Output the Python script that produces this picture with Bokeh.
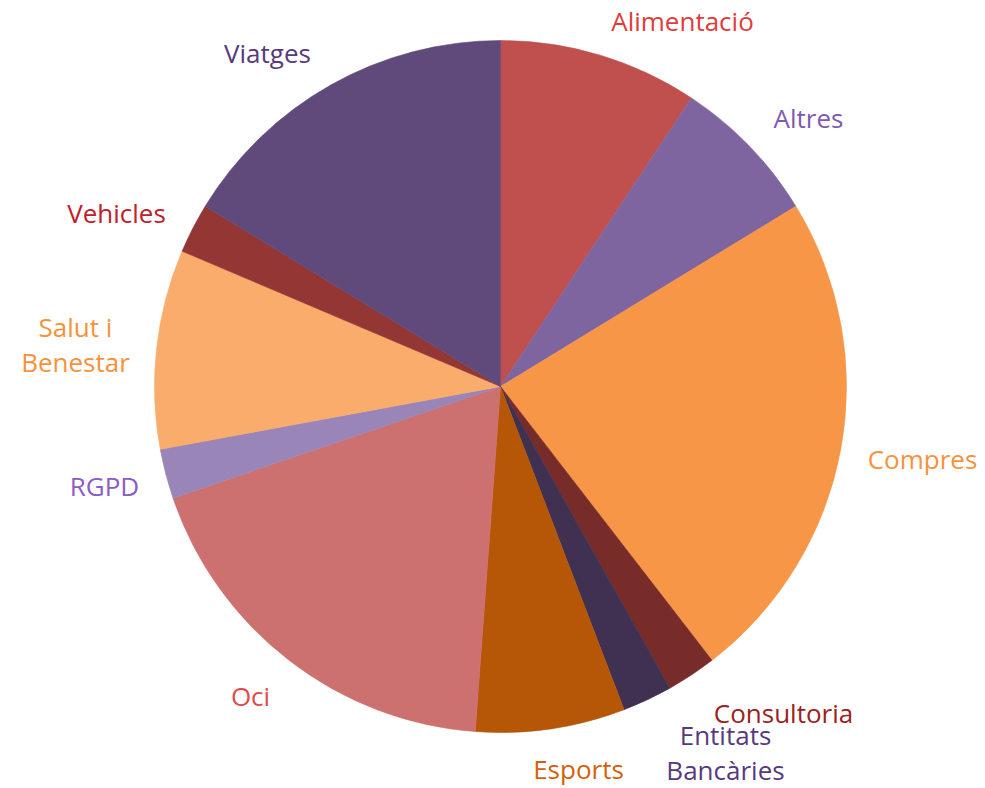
import math
from bokeh.plotting import figure
from bokeh.models import ColumnDataSource, Range1d
from bokeh.core.properties import value
from bokeh.embed import file_html
from bokeh.resources import INLINE

# ---- data ----
categories = ["Alimentació", "Altres", "Compres", "Consultoria", "Entitats\nBancàries",
              "Esports", "Oci", "RGPD", "Salut i\nBenestar", "Vehicles", "Viatges"]
counts = [4, 3, 10, 1, 1, 3, 8, 1, 4, 1, 7]

# ---- styles ----
slice_colors = ["#C0504D", "#7F65A0", "#F79646", "#772C2A", "#403152",
                "#B65708", "#CD7170", "#9A85B8", "#F9AC6C", "#943634", "#604A7B"]
label_colors = ["#E03C3C", "#7E5BB0", "#F7923A", "#9B2222", "#573A7E",
                "#D65F0C", "#E04A4A", "#8A5CC8", "#F7923A", "#C0202A", "#573A7E"]
# label placement relative to pie centre (pixels, screen y down)
label_dx = [182, 308, 422, 283, 225, 78, -250, -396, -425, -384, -233]
label_dy = [-366, -269, 72, 326, 366, 382, 309, 99, -42, -174, -334]

W, H = 985, 788
CX, CY, R = 500, 386, 346

total = sum(counts)
starts, ends = [], []
cum = 0
for c in counts:
    a0 = math.pi / 2 - 2 * math.pi * (cum + c) / total
    a1 = math.pi / 2 - 2 * math.pi * cum / total
    starts.append(a0)
    ends.append(a1)
    cum += c

src = ColumnDataSource(dict(
    cat=categories, start=starts, end=ends, fill=slice_colors,
    lx=[CX + d for d in label_dx], ly=[-(CY + d) for d in label_dy],
    lcol=label_colors,
))

p = figure(width=W, height=H, output_backend="svg", toolbar_location=None,
           x_range=Range1d(0, W), y_range=Range1d(-H, 0),
           min_border=0, outline_line_color=None)
p.axis.visible = False
p.grid.visible = False
p.background_fill_color = "white"

p.wedge(x=CX, y=-CY, radius=R, start_angle="start", end_angle="end",
        fill_color="fill", line_color="fill", line_width=0.6, source=src)

p.text(x="lx", y="ly", text="cat", text_color="lcol", source=src,
       text_font=value("Open Sans"), text_font_size="26px",
       text_align="center", text_baseline="middle", text_line_height=0.98)

open("out.html", "w").write(file_html(p, INLINE))
